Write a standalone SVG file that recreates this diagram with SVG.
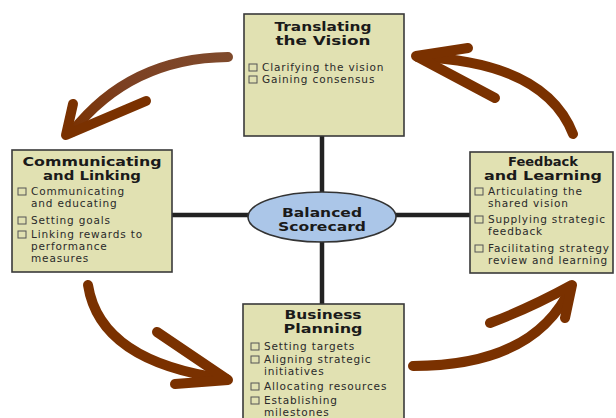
<svg xmlns="http://www.w3.org/2000/svg" width="616" height="418" viewBox="0 0 616 418">
<style>
.box{fill:#e1e1b2;stroke:#3a3a3a;stroke-width:1.6}
.ttl{font-family:"DejaVu Sans",sans-serif;font-weight:bold;font-size:12px;fill:#1a1a1a;text-anchor:middle}
.itm{font-family:"DejaVu Sans",sans-serif;font-size:10.5px;letter-spacing:0.85px;fill:#2a2a2a}
.cb{fill:none;stroke:#555;stroke-width:1}
.ln{stroke:#222;stroke-width:4.5}
.arr{fill:none;stroke:#7a3100;stroke-width:10;stroke-linecap:round;stroke-linejoin:round}
</style>
<defs>
<linearGradient id="g1" x1="230" y1="57" x2="70" y2="135" gradientUnits="userSpaceOnUse">
<stop offset="0" stop-color="#7f4a2c"/><stop offset="0.6" stop-color="#7c4022"/><stop offset="1" stop-color="#7a3100"/>
</linearGradient>
</defs>
<rect width="616" height="418" fill="#fff"/>
<g id="connectors">
<line class="ln" x1="322" y1="136" x2="322" y2="193"/>
<line class="ln" x1="322" y1="242" x2="322" y2="304"/>
<line class="ln" x1="172" y1="215" x2="249" y2="215"/>
<line class="ln" x1="396" y1="215" x2="470" y2="215"/>
<path class="arr" style="stroke:url(#g1)" d="M228,57 Q130,58 72,132"/>
<path class="arr" d="M73,104 L66,135 L146,101"/>
<path class="arr" d="M573,134 Q545,62 418,57"/>
<path class="arr" d="M468,48 L416,56 L495,98"/>
<path class="arr" d="M88,285 Q100,362 226,379"/>
<path class="arr" d="M157,332 L228,380 L175,384"/>
<path class="arr" d="M413,366 Q535,366 571,287"/>
<path class="arr" d="M490,323 Q530,308 572,285 L565,318"/>
</g>
<g id="top">
<rect class="box" x="244" y="14" width="160" height="122"/>
<text class="ttl" x="323" y="30.5" textLength="97" lengthAdjust="spacingAndGlyphs">Translating</text>
<text class="ttl" x="323" y="44.5" textLength="95" lengthAdjust="spacingAndGlyphs">the Vision</text>
<rect class="cb" x="249" y="64" width="8" height="7"/>
<text class="itm" x="262" y="71">Clarifying the vision</text>
<rect class="cb" x="249" y="76" width="8" height="7"/>
<text class="itm" x="262" y="83">Gaining consensus</text>
</g>
<g id="left">
<rect class="box" x="12" y="150" width="160" height="122"/>
<text class="ttl" x="92" y="166" textLength="139" lengthAdjust="spacingAndGlyphs">Communicating</text>
<text class="ttl" x="92" y="180" textLength="98" lengthAdjust="spacingAndGlyphs">and Linking</text>
<rect class="cb" x="18" y="188" width="8" height="7"/>
<text class="itm" x="31" y="195">Communicating</text>
<text class="itm" x="31" y="207">and educating</text>
<rect class="cb" x="18" y="217" width="8" height="7"/>
<text class="itm" x="31" y="224">Setting goals</text>
<rect class="cb" x="18" y="231" width="8" height="7"/>
<text class="itm" x="31" y="238">Linking rewards to</text>
<text class="itm" x="31" y="250">performance</text>
<text class="itm" x="31" y="262">measures</text>
</g>
<g id="right">
<rect class="box" x="470" y="152" width="143" height="121"/>
<text class="ttl" x="543" y="166" textLength="70" lengthAdjust="spacingAndGlyphs">Feedback</text>
<text class="ttl" x="543" y="180" textLength="118" lengthAdjust="spacingAndGlyphs">and Learning</text>
<rect class="cb" x="475" y="188" width="8" height="7"/>
<text class="itm" x="488" y="195">Articulating the</text>
<text class="itm" x="488" y="207">shared vision</text>
<rect class="cb" x="475" y="216" width="8" height="7"/>
<text class="itm" x="488" y="223">Supplying strategic</text>
<text class="itm" x="488" y="235">feedback</text>
<rect class="cb" x="475" y="245" width="8" height="7"/>
<text class="itm" x="488" y="252">Facilitating strategy</text>
<text class="itm" x="488" y="264">review and learning</text>
</g>
<g id="bottom">
<rect class="box" x="243" y="304" width="161" height="120"/>
<text class="ttl" x="323" y="319" textLength="77" lengthAdjust="spacingAndGlyphs">Business</text>
<text class="ttl" x="323" y="333" textLength="79" lengthAdjust="spacingAndGlyphs">Planning</text>
<rect class="cb" x="251" y="343" width="8" height="7"/>
<text class="itm" x="264" y="350">Setting targets</text>
<rect class="cb" x="251" y="356" width="8" height="7"/>
<text class="itm" x="264" y="363">Aligning strategic</text>
<text class="itm" x="264" y="375">initiatives</text>
<rect class="cb" x="251" y="383" width="8" height="7"/>
<text class="itm" x="264" y="390">Allocating resources</text>
<rect class="cb" x="251" y="397" width="8" height="7"/>
<text class="itm" x="264" y="404">Establishing</text>
<text class="itm" x="264" y="416">milestones</text>
</g>
<g id="center">
<ellipse cx="322" cy="217" rx="74" ry="25" fill="#abc6e8" stroke="#333" stroke-width="1.6"/>
<text class="ttl" x="322" y="217" style="font-size:11.5px" textLength="80" lengthAdjust="spacingAndGlyphs">Balanced</text>
<text class="ttl" x="322" y="230.5" style="font-size:11.5px" textLength="88" lengthAdjust="spacingAndGlyphs">Scorecard</text>
</g>
</svg>
